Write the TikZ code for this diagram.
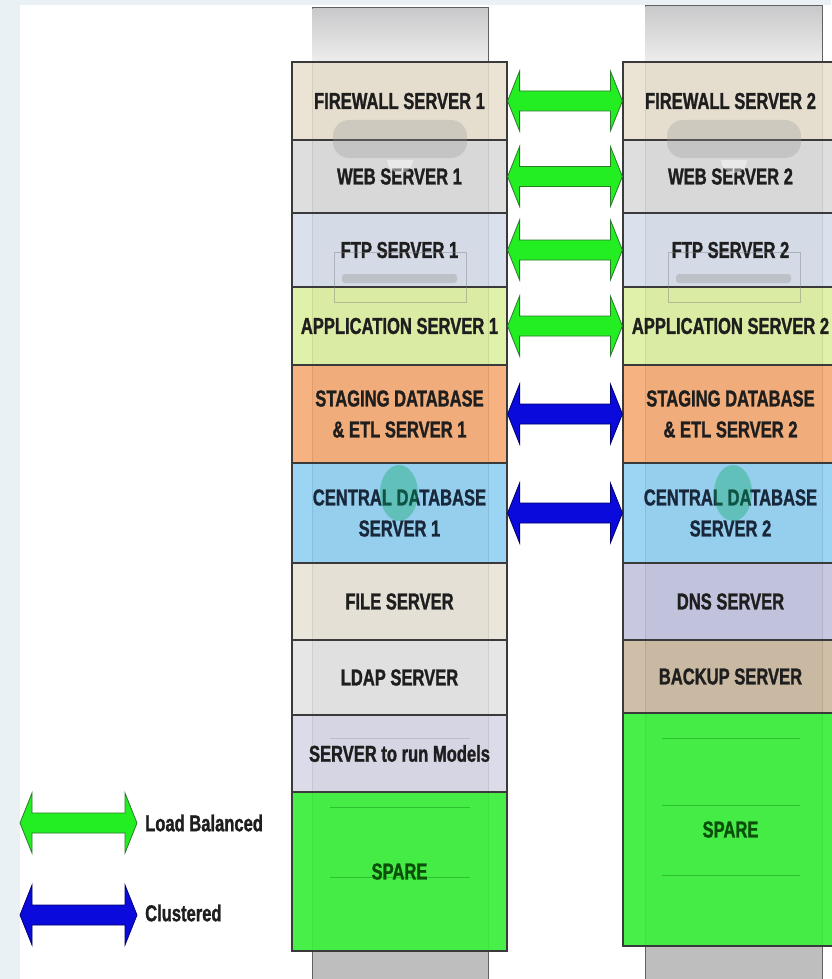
\documentclass[tikz,border=0pt]{standalone}
\usepackage{fontspec}
\setmainfont{Liberation Sans}[FakeStretch=0.72, BoldFeatures={FakeBold=1.2}]
\usetikzlibrary{calc}
\definecolor{pagebg}{HTML}{E9F1F4}
\definecolor{boxline}{HTML}{3A3A3A}
\definecolor{txt}{HTML}{1E1E1E}
\definecolor{cfw}{HTML}{E8E0CF}
\definecolor{cweb}{HTML}{D9D9D9}
\definecolor{cftp}{HTML}{D5DCE9}
\definecolor{capp}{HTML}{DCEF9C}
\definecolor{cstg}{HTML}{F5A66C}
\definecolor{ccdb}{HTML}{8CCFF2}
\definecolor{cfile}{HTML}{E8E3D5}
\definecolor{cldap}{HTML}{E2E2E2}
\definecolor{cmod}{HTML}{D6D6E6}
\definecolor{cspare}{HTML}{3CEE3C}
\definecolor{cdns}{HTML}{BFC0DD}
\definecolor{cbak}{HTML}{C9B59A}
\definecolor{tower}{HTML}{D4D4D6}
\definecolor{towerlow}{HTML}{BEBEBE}
\definecolor{lbfill}{HTML}{22EE22}
\definecolor{lbdraw}{HTML}{2A7A2A}
\definecolor{clfill}{HTML}{0A0ADC}
\definecolor{cldraw}{HTML}{00006E}
\definecolor{sparetxt}{HTML}{0B4F0B}
\definecolor{cdbtxt}{HTML}{18283A}
\newcommand\lab{\fontsize{23pt}{31pt}\selectfont\bfseries}
\newcommand\leg{\fontsize{23pt}{26pt}\selectfont\bfseries}
\newcommand\dblarrow[4]{%
  \filldraw[fill=#3, draw=#4, line width=0.8pt, line join=miter]
    let \p1=#1, \p2=#2 in
    (\x1,\y1) -- (\x1+12pt,\y1+30pt) -- (\x1+12pt,\y1+10pt) --
    (\x2-12pt,\y1+10pt) -- (\x2-12pt,\y1+30pt) -- (\x2,\y1) --
    (\x2-12pt,\y1-30pt) -- (\x2-12pt,\y1-10pt) -- (\x1+12pt,\y1-10pt) --
    (\x1+12pt,\y1-30pt) -- cycle;}
\tikzset{
  box/.style={draw=boxline, line width=1.2pt, minimum width=215pt,
    inner sep=0pt, align=center, font=\lab, text=txt,
    fill opacity=0.86, text opacity=1},
  sparebox/.style={box, fill=cspare, fill opacity=0.93, text=sparetxt},
  towerbody/.style={draw=boxline!80, line width=1pt, fill=tower},
  decor/.style={fill=black!40, opacity=0.3},
  spareline/.style={draw=green!45!black, line width=0.5pt, opacity=0.35}
}
\begin{document}
\begin{tikzpicture}[x=1pt,y=-1pt]
\useasboundingbox (0,0) rectangle (831,979);
\fill[pagebg] (0,0) rectangle (831,979);
\fill[white] (20,5) rectangle (831,979);
% towers
\draw[towerbody] (312,8) rectangle (488,985);
\shade[top color=tower!95!black, bottom color=white!93!black] (312.5,8.5) rectangle (487.5,62);
\fill[towerlow] (312.5,951) rectangle (487.5,985);
\draw[towerbody] (645,6) rectangle (822,985);
\shade[top color=tower!95!black, bottom color=white!93!black] (645.5,6.5) rectangle (821.5,62);
\fill[towerlow] (645.5,946) rectangle (821.5,985);
% left stack
\node[box, fill=cfw,   minimum height=78pt]  (fw1)  at (399.5,101)   {FIREWALL SERVER 1};
\node[box, fill=cweb,  minimum height=73pt]  (web1) at (399.5,176.5) {WEB SERVER 1};
\node[box, fill=cftp,  minimum height=74pt]  (ftp1) at (399.5,250)   {FTP SERVER 1};
\node[box, fill=capp,  minimum height=78pt]  (app1) at (399.5,326)   {APPLICATION SERVER 1};
\node[box, fill=cstg,  minimum height=98pt]  (stg1) at (399.5,414)   {STAGING DATABASE\\\& ETL SERVER 1};
\node[box, fill=ccdb,  minimum height=100pt, text=cdbtxt] (cdb1) at (399.5,513) {CENTRAL DATABASE\\SERVER 1};
\node[box, fill=cfile, minimum height=77pt]  (file) at (399.5,601.5) {FILE SERVER};
\node[box, fill=cldap, minimum height=75pt]  (ldap) at (399.5,677.5) {LDAP SERVER};
\node[box, fill=cmod,  minimum height=77pt]  (mod)  at (399.5,753.5) {SERVER to run Models};
\node[sparebox, minimum height=159pt] (spare1) at (399.5,871.5) {SPARE};
% right stack
\node[box, fill=cfw,   minimum height=78pt]  (fw2)  at (730.5,101)   {FIREWALL SERVER 2};
\node[box, fill=cweb,  minimum height=73pt]  (web2) at (730.5,176.5) {WEB SERVER 2};
\node[box, fill=cftp,  minimum height=74pt]  (ftp2) at (730.5,250)   {FTP SERVER 2};
\node[box, fill=capp,  minimum height=78pt]  (app2) at (730.5,326)   {APPLICATION SERVER 2};
\node[box, fill=cstg,  minimum height=98pt]  (stg2) at (730.5,414)   {STAGING DATABASE\\\& ETL SERVER 2};
\node[box, fill=ccdb,  minimum height=100pt, text=cdbtxt] (cdb2) at (730.5,513) {CENTRAL DATABASE\\SERVER 2};
\node[box, fill=cdns,  minimum height=77pt]  (dns)  at (730.5,601.5) {DNS SERVER};
\node[box, fill=cbak,  minimum height=73pt]  (bak)  at (730.5,676.5) {BACKUP SERVER};
\node[sparebox, minimum height=233pt] (spare2) at (730.5,829.5) {SPARE};
% decorative tower details seen through the boxes
\foreach \cx in {400,734}{
  \fill[decor, rounded corners=16pt] (\cx-67,120) rectangle (\cx+67,158);
  \fill[white, opacity=0.45] (\cx-13,160) arc[start angle=180, end angle=0, radius=13];
  \draw[black!50, opacity=0.45, line width=0.8pt] (\cx-66,252) rectangle (\cx+66,302);
  \fill[black!40, opacity=0.4, rounded corners=3pt] (\cx-58,274) rectangle (\cx+57,283);
  \fill[teal!70!green, opacity=0.35] (\cx-1,493) ellipse[x radius=19, y radius=28];
}
\draw[spareline] (330,807) -- (470,807);
\draw[spareline] (330,877) -- (470,877);
\draw[black!40, opacity=0.4] (330,738) -- (470,738);
\draw[spareline] (662,738) -- (800,738);
\draw[spareline] (662,805) -- (800,805);
\draw[spareline] (662,875) -- (800,875);
% connectors
\dblarrow{(fw1.east)}{(fw2.west)}{lbfill}{lbdraw}
\dblarrow{(web1.east)}{(web2.west)}{lbfill}{lbdraw}
\dblarrow{(ftp1.east)}{(ftp2.west)}{lbfill}{lbdraw}
\dblarrow{(app1.east)}{(app2.west)}{lbfill}{lbdraw}
\dblarrow{(stg1.east)}{(stg2.west)}{clfill}{cldraw}
\dblarrow{(cdb1.east)}{(cdb2.west)}{clfill}{cldraw}
% legend
\coordinate (lg1a) at (20,823);
\coordinate (lg1b) at (137,823);
\coordinate (lg2a) at (20,915);
\coordinate (lg2b) at (137,915);
\dblarrow{(lg1a)}{(lg1b)}{lbfill}{lbdraw}
\dblarrow{(lg2a)}{(lg2b)}{clfill}{cldraw}
\node[anchor=west, font=\leg, text=txt, inner sep=0pt] (lbtxt) at (145,823) {Load Balanced};
\node[anchor=west, font=\leg, text=txt, inner sep=0pt] (cltxt) at (145,913) {Clustered};
\end{tikzpicture}
\end{document}
